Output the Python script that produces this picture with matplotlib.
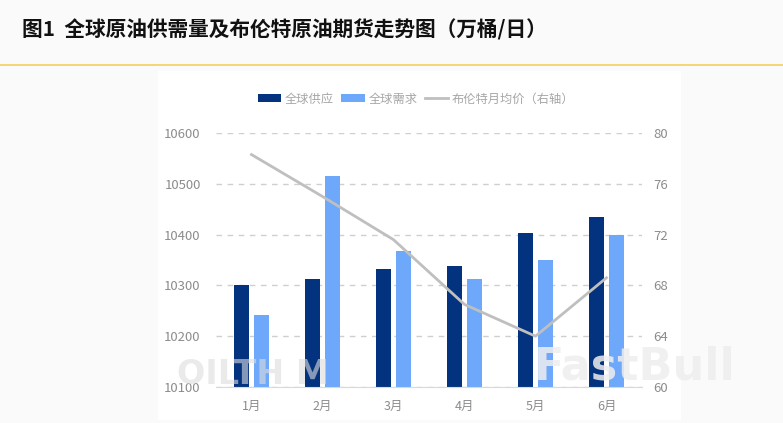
import numpy as np
import matplotlib
matplotlib.use("Agg")
import matplotlib.pyplot as plt
from matplotlib.patches import Rectangle

plt.rcParams['font.family'] = ['Noto Sans CJK SC', 'DejaVu Sans']

months = ["1月", "2月", "3月", "4月", "5月", "6月"]
supply = [10300, 10312, 10332, 10338, 10403, 10434]
demand = [10242, 10515, 10368, 10312, 10350, 10400]
brent = [78.3, 75.0, 71.6, 66.5, 64.0, 68.6]
left_ticks = [10100, 10200, 10300, 10400, 10500, 10600]
right_ticks = [60, 64, 68, 72, 76, 80]

W, H = 783, 423
fig = plt.figure(figsize=(W / 100, H / 100), dpi=100, facecolor='#fafafb')

# white card behind the chart
fig.add_artist(Rectangle((158 / W, 1 - 420 / H), 523 / W, 349 / H, transform=fig.transFigure,
                         facecolor='white', edgecolor='none', zorder=-5))
# header rule
fig.add_artist(plt.Line2D([0, 1], [1 - 65.5 / H] * 2, color='#f2cf5b', lw=1.2, zorder=-5))
fig.text(22 / W, 1 - 30 / H, "图1  全球原油供需量及布伦特原油期货走势图（万桶/日）",
         fontsize=14.9, fontweight='bold', color='#111111', va='center', ha='left')

ax = fig.add_axes([216 / W, 1 - 387 / H, 426 / W, 254 / H])
ax.patch.set_alpha(0)
x = np.arange(len(months))
ax.bar(x - 0.141, supply, width=0.22, color='#03337f', label='全球供应', zorder=2)
ax.bar(x + 0.141, demand, width=0.22, color='#6ea8fa', label='全球需求', zorder=2)
ax.set_xlim(-0.5, 5.5)
ax.set_ylim(10100, 10600)
ax.set_yticks(left_ticks)
ax.set_xticks(x)
ax.set_xticklabels(months)
ax.tick_params(length=0, labelcolor='#8c8c8c')
ax.tick_params(axis='x', pad=9, labelsize=9)
ax.tick_params(axis='y', pad=11, labelsize=9.5)
ax.grid(axis='y', color='#cfcfcf', ls=(0, (4, 4)), lw=1, zorder=0)
for s in ['top', 'left', 'right']:
    ax.spines[s].set_visible(False)
ax.spines['bottom'].set_color('#d9d9d9')

ax2 = ax.twinx()
ax2.patch.set_alpha(0)
ax2.plot(x, brent, color='#bfbfbf', lw=2, label='布伦特月均价（右轴）', zorder=3)
ax2.set_ylim(60, 80)
ax2.set_yticks(right_ticks)
ax2.tick_params(length=0, labelsize=9.5, labelcolor='#8c8c8c', pad=8)
for s in ax2.spines.values():
    s.set_visible(False)

h1, l1 = ax.get_legend_handles_labels()
h2, l2 = ax2.get_legend_handles_labels()
fig.legend(h1 + h2, l1 + l2, loc='center', bbox_to_anchor=(416 / W, 1 - 99 / H), ncol=3,
           frameon=False, fontsize=8.8, labelcolor='#a6a6a6', handlelength=1.9, handleheight=0.6,
           handletextpad=0.3, columnspacing=0.6)

# watermarks over the plot
fig.text(177 / W, 1 - 375 / H, "OILTH M", fontsize=24, fontweight='bold', color='#dddddd',
         alpha=0.6, va='center', ha='left', family='DejaVu Sans')
fig.text(534 / W, 1 - 367 / H, "FastBull", fontsize=32, fontweight='bold', color='#eeeeee',
         alpha=0.85, va='center', ha='left', family='DejaVu Sans')

fig.savefig('out.png', dpi=100, facecolor=fig.get_facecolor())
